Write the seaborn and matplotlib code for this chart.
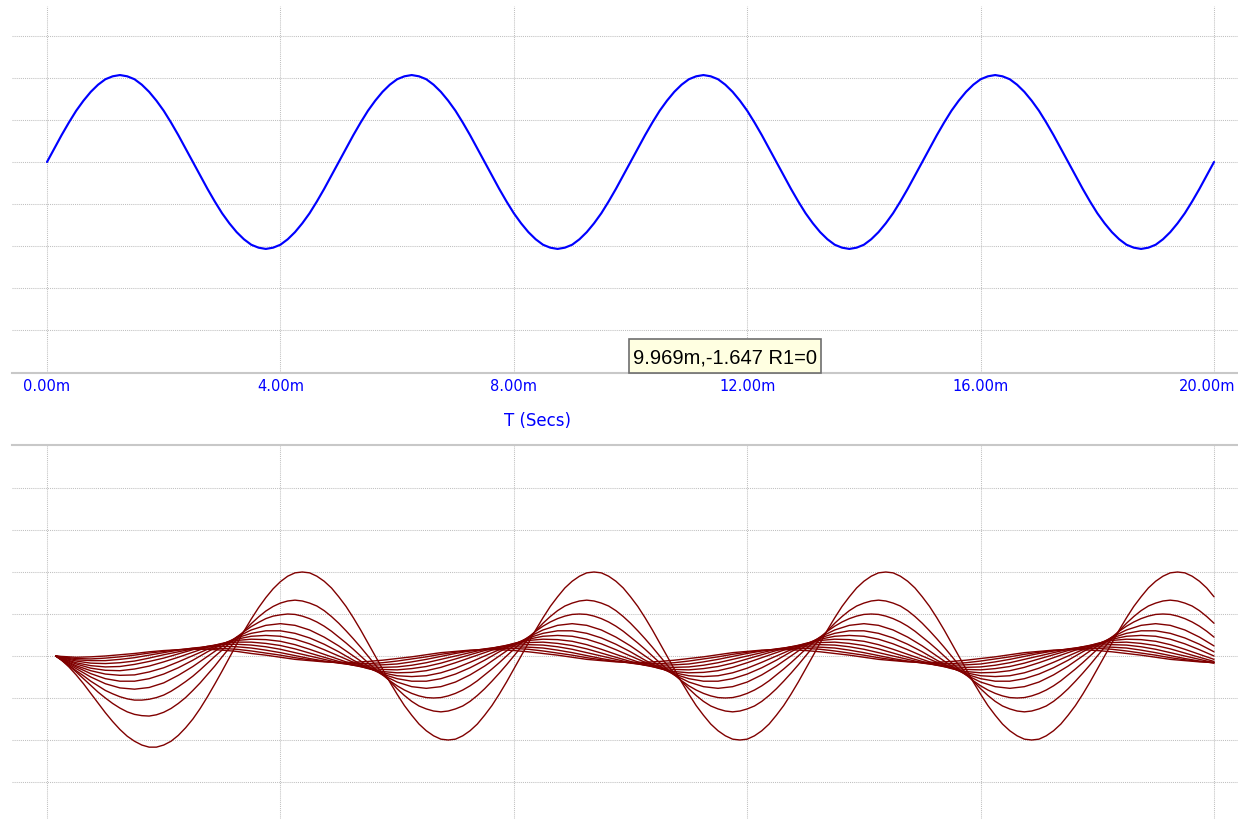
import numpy as np
import pandas as pd
import matplotlib
matplotlib.use("Agg")
import matplotlib.pyplot as plt
from matplotlib.patches import Rectangle
from matplotlib.transforms import ScaledTranslation
import seaborn as sns

# ---------------- data ----------------
tick_values = [0, 4, 8, 12, 16, 20]
tick_labels = ["0.00m", "4.00m", "8.00m", "12.00m", "16.00m", "20.00m"]
x_label = "T (Secs)"
cursor_text = "9.969m,-1.647 R1=0"

# time grids (ms)
t_top = np.arange(0, 20.001, 0.125)
t_fine = np.concatenate([[0.15], np.arange(0.25, 20.001, 0.125)])
t_coarse = np.concatenate([[0.15], np.arange(0.25, 20.001, 0.25)])

# upper trace (input)
v_top = [
    0.00, 0.32, 0.64, 0.94, 1.22, 1.46, 1.67, 1.84, 1.97, 2.04, 2.07, 2.04, 1.97, 1.84, 1.67, 1.46, 1.22, 0.94, 0.64, 0.32,
    0.00, -0.32, -0.64, -0.94, -1.22, -1.46, -1.67, -1.84, -1.97, -2.04, -2.07, -2.04, -1.97, -1.84, -1.67, -1.46, -1.22, -0.94, -0.64, -0.32,
    0.00, 0.32, 0.64, 0.94, 1.22, 1.46, 1.67, 1.84, 1.97, 2.04, 2.07, 2.04, 1.97, 1.84, 1.67, 1.46, 1.22, 0.94, 0.64, 0.32,
    0.00, -0.32, -0.64, -0.94, -1.22, -1.46, -1.67, -1.84, -1.97, -2.04, -2.07, -2.04, -1.97, -1.84, -1.67, -1.46, -1.22, -0.94, -0.64, -0.32,
    0.00, 0.32, 0.64, 0.94, 1.22, 1.46, 1.67, 1.84, 1.97, 2.04, 2.07, 2.04, 1.97, 1.84, 1.67, 1.46, 1.22, 0.94, 0.64, 0.32,
    0.00, -0.32, -0.64, -0.94, -1.22, -1.46, -1.67, -1.84, -1.97, -2.04, -2.07, -2.04, -1.97, -1.84, -1.67, -1.46, -1.22, -0.94, -0.64, -0.32,
    0.00, 0.32, 0.64, 0.94, 1.22, 1.46, 1.67, 1.84, 1.97, 2.04, 2.07, 2.04, 1.97, 1.84, 1.67, 1.46, 1.22, 0.94, 0.64, 0.32,
    0.00, -0.32, -0.64, -0.94, -1.22, -1.46, -1.67, -1.84, -1.97, -2.04, -2.07, -2.04, -1.97, -1.84, -1.67, -1.46, -1.22, -0.94, -0.64, -0.32,
    0.00,
]

# lower traces (R1 stepped) - the three largest on the fine grid
curve_r0 = [
    0.00, -0.10, -0.26, -0.45, -0.66, -0.89, -1.12, -1.35, -1.56, -1.75,
    -1.91, -2.03, -2.12, -2.17, -2.17, -2.12, -2.03, -1.89, -1.71, -1.50,
    -1.25, -0.97, -0.67, -0.36, -0.04, 0.28, 0.59, 0.88, 1.15, 1.39,
    1.60, 1.77, 1.90, 1.98, 2.00, 1.98, 1.90, 1.78, 1.62,
    1.41, 1.18, 0.91, 0.62, 0.31, 0.00, -0.31, -0.62, -0.91, -1.18, -1.41, -1.62, -1.78, -1.90, -1.98, -2.00, -1.98, -1.90, -1.78, -1.62,
    -1.41, -1.18, -0.91, -0.62, -0.31, 0.00, 0.31, 0.62, 0.91, 1.18, 1.41, 1.62, 1.78, 1.90, 1.98, 2.00, 1.98, 1.90, 1.78, 1.62,
    1.41, 1.18, 0.91, 0.62, 0.31, 0.00, -0.31, -0.62, -0.91, -1.18, -1.41, -1.62, -1.78, -1.90, -1.98, -2.00, -1.98, -1.90, -1.78, -1.62,
    -1.41, -1.18, -0.91, -0.62, -0.31, 0.00, 0.31, 0.62, 0.91, 1.18, 1.41, 1.62, 1.78, 1.90, 1.98, 2.00, 1.98, 1.90, 1.78, 1.62,
    1.41, 1.18, 0.91, 0.62, 0.31, 0.00, -0.31, -0.62, -0.91, -1.18, -1.41, -1.62, -1.78, -1.90, -1.98, -2.00, -1.98, -1.90, -1.78, -1.62,
    -1.41, -1.18, -0.91, -0.62, -0.31, 0.00, 0.31, 0.62, 0.91, 1.18, 1.41, 1.62, 1.78, 1.90, 1.98, 2.00, 1.98, 1.90, 1.78, 1.62,
    1.41,
]
curve_r1 = [
    0.00, -0.10, -0.23, -0.38, -0.54, -0.70, -0.86, -1.00, -1.13, -1.24,
    -1.33, -1.39, -1.42, -1.43, -1.40, -1.34, -1.25, -1.13, -0.99, -0.82,
    -0.64, -0.44, -0.24, -0.02, 0.19, 0.39, 0.59, 0.77, 0.93, 1.07,
    1.18, 1.26, 1.31, 1.33, 1.31, 1.26, 1.19, 1.08, 0.94,
    0.78, 0.60, 0.41, 0.21, 0.00, -0.21, -0.41, -0.60, -0.78, -0.94, -1.08, -1.19, -1.26, -1.31, -1.33, -1.31, -1.26, -1.19, -1.08, -0.94,
    -0.78, -0.60, -0.41, -0.21, 0.00, 0.21, 0.41, 0.60, 0.78, 0.94, 1.08, 1.19, 1.26, 1.31, 1.33, 1.31, 1.26, 1.19, 1.08, 0.94,
    0.78, 0.60, 0.41, 0.21, 0.00, -0.21, -0.41, -0.60, -0.78, -0.94, -1.08, -1.19, -1.26, -1.31, -1.33, -1.31, -1.26, -1.19, -1.08, -0.94,
    -0.78, -0.60, -0.41, -0.21, 0.00, 0.21, 0.41, 0.60, 0.78, 0.94, 1.08, 1.19, 1.26, 1.31, 1.33, 1.31, 1.26, 1.19, 1.08, 0.94,
    0.78, 0.60, 0.41, 0.21, 0.00, -0.21, -0.41, -0.60, -0.78, -0.94, -1.08, -1.19, -1.26, -1.31, -1.33, -1.31, -1.26, -1.19, -1.08, -0.94,
    -0.78, -0.60, -0.41, -0.21, 0.00, 0.21, 0.41, 0.60, 0.78, 0.94, 1.08, 1.19, 1.26, 1.31, 1.33, 1.31, 1.26, 1.19, 1.08, 0.94,
    0.78,
]
curve_r2 = [
    0.00, -0.09, -0.22, -0.35, -0.47, -0.60, -0.71, -0.82, -0.90, -0.97,
    -1.02, -1.05, -1.05, -1.03, -0.99, -0.93, -0.84, -0.73, -0.61, -0.48,
    -0.33, -0.17, -0.01, 0.14, 0.30, 0.45, 0.58, 0.70, 0.80, 0.89,
    0.95, 0.98, 1.00, 0.99, 0.95, 0.89, 0.81, 0.71, 0.59,
    0.45, 0.31, 0.16, 0.00, -0.16, -0.31, -0.45, -0.59, -0.71, -0.81, -0.89, -0.95, -0.99, -1.00, -0.99, -0.95, -0.89, -0.81, -0.71, -0.59,
    -0.45, -0.31, -0.16, 0.00, 0.16, 0.31, 0.45, 0.59, 0.71, 0.81, 0.89, 0.95, 0.99, 1.00, 0.99, 0.95, 0.89, 0.81, 0.71, 0.59,
    0.45, 0.31, 0.16, 0.00, -0.16, -0.31, -0.45, -0.59, -0.71, -0.81, -0.89, -0.95, -0.99, -1.00, -0.99, -0.95, -0.89, -0.81, -0.71, -0.59,
    -0.45, -0.31, -0.16, 0.00, 0.16, 0.31, 0.45, 0.59, 0.71, 0.81, 0.89, 0.95, 0.99, 1.00, 0.99, 0.95, 0.89, 0.81, 0.71, 0.59,
    0.45, 0.31, 0.16, 0.00, -0.16, -0.31, -0.45, -0.59, -0.71, -0.81, -0.89, -0.95, -0.99, -1.00, -0.99, -0.95, -0.89, -0.81, -0.71, -0.59,
    -0.45, -0.31, -0.16, 0.00, 0.16, 0.31, 0.45, 0.59, 0.71, 0.81, 0.89, 0.95, 0.99, 1.00, 0.99, 0.95, 0.89, 0.81, 0.71, 0.59,
    0.45,
]
# smaller traces on the coarse grid
curve_r3 = [
    0.00, -0.09, -0.30, -0.50, -0.66, -0.76, -0.79, -0.75, -0.64, -0.46,
    -0.25, -0.01, 0.23, 0.45, 0.62, 0.73, 0.77, 0.73, 0.62, 0.45,
    0.24, 0.00, -0.24, -0.45, -0.62, -0.73, -0.77, -0.73, -0.62, -0.45, -0.24, 0.00, 0.24, 0.45, 0.62, 0.73, 0.77, 0.73, 0.62, 0.45,
    0.24, 0.00, -0.24, -0.45, -0.62, -0.73, -0.77, -0.73, -0.62, -0.45, -0.24, 0.00, 0.24, 0.45, 0.62, 0.73, 0.77, 0.73, 0.62, 0.45,
    0.24, 0.00, -0.24, -0.45, -0.62, -0.73, -0.77, -0.73, -0.62, -0.45, -0.24, 0.00, 0.24, 0.45, 0.62, 0.73, 0.77, 0.73, 0.62, 0.45,
    0.24,
]
curve_r4 = [
    0.00, -0.08, -0.26, -0.42, -0.54, -0.60, -0.60, -0.54, -0.43, -0.28,
    -0.10, 0.10, 0.28, 0.43, 0.54, 0.60, 0.60, 0.54, 0.43, 0.28,
    0.10, -0.10, -0.28, -0.43, -0.54, -0.60, -0.60, -0.54, -0.43, -0.28, -0.10, 0.10, 0.28, 0.43, 0.54, 0.60, 0.60, 0.54, 0.43, 0.28,
    0.10, -0.10, -0.28, -0.43, -0.54, -0.60, -0.60, -0.54, -0.43, -0.28, -0.10, 0.10, 0.28, 0.43, 0.54, 0.60, 0.60, 0.54, 0.43, 0.28,
    0.10, -0.10, -0.28, -0.43, -0.54, -0.60, -0.60, -0.54, -0.43, -0.28, -0.10, 0.10, 0.28, 0.43, 0.54, 0.60, 0.60, 0.54, 0.43, 0.28,
    0.10,
]
curve_r5 = [
    0.00, -0.07, -0.23, -0.35, -0.43, -0.46, -0.45, -0.38, -0.28, -0.14,
    0.01, 0.16, 0.29, 0.40, 0.47, 0.49, 0.47, 0.40, 0.29, 0.15,
    0.00, -0.15, -0.29, -0.40, -0.47, -0.49, -0.47, -0.40, -0.29, -0.15, 0.00, 0.15, 0.29, 0.40, 0.47, 0.49, 0.47, 0.40, 0.29, 0.15,
    0.00, -0.15, -0.29, -0.40, -0.47, -0.49, -0.47, -0.40, -0.29, -0.15, 0.00, 0.15, 0.29, 0.40, 0.47, 0.49, 0.47, 0.40, 0.29, 0.15,
    0.00, -0.15, -0.29, -0.40, -0.47, -0.49, -0.47, -0.40, -0.29, -0.15, 0.00, 0.15, 0.29, 0.40, 0.47, 0.49, 0.47, 0.40, 0.29, 0.15,
    0.00,
]
curve_r6 = [
    0.00, -0.06, -0.19, -0.29, -0.34, -0.35, -0.31, -0.24, -0.14, -0.03,
    0.09, 0.21, 0.30, 0.37, 0.40, 0.39, 0.35, 0.27, 0.16, 0.04,
    -0.08, -0.20, -0.30, -0.37, -0.40, -0.39, -0.35, -0.27, -0.16, -0.04, 0.08, 0.20, 0.30, 0.37, 0.40, 0.39, 0.35, 0.27, 0.16, 0.04,
    -0.08, -0.20, -0.30, -0.37, -0.40, -0.39, -0.35, -0.27, -0.16, -0.04, 0.08, 0.20, 0.30, 0.37, 0.40, 0.39, 0.35, 0.27, 0.16, 0.04,
    -0.08, -0.20, -0.30, -0.37, -0.40, -0.39, -0.35, -0.27, -0.16, -0.04, 0.08, 0.20, 0.30, 0.37, 0.40, 0.39, 0.35, 0.27, 0.16, 0.04,
    -0.08,
]
curve_r7 = [
    0.00, -0.05, -0.16, -0.23, -0.26, -0.25, -0.20, -0.13, -0.05, 0.05,
    0.15, 0.23, 0.29, 0.33, 0.33, 0.30, 0.25, 0.17, 0.07, -0.03,
    -0.13, -0.22, -0.29, -0.32, -0.33, -0.30, -0.25, -0.17, -0.07, 0.03, 0.13, 0.22, 0.29, 0.32, 0.33, 0.30, 0.25, 0.17, 0.07, -0.03,
    -0.13, -0.22, -0.29, -0.32, -0.33, -0.30, -0.25, -0.17, -0.07, 0.03, 0.13, 0.22, 0.29, 0.32, 0.33, 0.30, 0.25, 0.17, 0.07, -0.03,
    -0.13, -0.22, -0.29, -0.32, -0.33, -0.30, -0.25, -0.17, -0.07, 0.03, 0.13, 0.22, 0.29, 0.32, 0.33, 0.30, 0.25, 0.17, 0.07, -0.03,
    -0.13,
]
curve_r8 = [
    0.00, -0.04, -0.12, -0.17, -0.18, -0.16, -0.12, -0.05, 0.03, 0.10,
    0.17, 0.23, 0.27, 0.28, 0.26, 0.22, 0.16, 0.08, 0.00, -0.08,
    -0.16, -0.22, -0.26, -0.27, -0.26, -0.22, -0.16, -0.08, 0.00, 0.08, 0.16, 0.22, 0.26, 0.27, 0.26, 0.22, 0.16, 0.08, 0.00, -0.08,
    -0.16, -0.22, -0.26, -0.27, -0.26, -0.22, -0.16, -0.08, 0.00, 0.08, 0.16, 0.22, 0.26, 0.27, 0.26, 0.22, 0.16, 0.08, 0.00, -0.08,
    -0.16, -0.22, -0.26, -0.27, -0.26, -0.22, -0.16, -0.08, 0.00, 0.08, 0.16, 0.22, 0.26, 0.27, 0.26, 0.22, 0.16, 0.08, 0.00, -0.08,
    -0.16,
]
curve_r9 = [
    0.00, -0.03, -0.09, -0.11, -0.11, -0.08, -0.04, 0.02, 0.08, 0.14,
    0.19, 0.22, 0.23, 0.22, 0.19, 0.14, 0.08, 0.01, -0.06, -0.12,
    -0.17, -0.21, -0.22, -0.21, -0.19, -0.14, -0.08, -0.01, 0.06, 0.12, 0.17, 0.21, 0.22, 0.21, 0.19, 0.14, 0.08, 0.01, -0.06, -0.12,
    -0.17, -0.21, -0.22, -0.21, -0.19, -0.14, -0.08, -0.01, 0.06, 0.12, 0.17, 0.21, 0.22, 0.21, 0.19, 0.14, 0.08, 0.01, -0.06, -0.12,
    -0.17, -0.21, -0.22, -0.21, -0.19, -0.14, -0.08, -0.01, 0.06, 0.12, 0.17, 0.21, 0.22, 0.21, 0.19, 0.14, 0.08, 0.01, -0.06, -0.12,
    -0.17,
]
curve_r10 = [
    0.00, -0.02, -0.06, -0.07, -0.05, -0.02, 0.02, 0.07, 0.11, 0.15,
    0.18, 0.19, 0.18, 0.16, 0.12, 0.07, 0.02, -0.04, -0.09, -0.13,
    -0.16, -0.18, -0.18, -0.16, -0.12, -0.07, -0.02, 0.04, 0.09, 0.13, 0.16, 0.18, 0.18, 0.16, 0.12, 0.07, 0.02, -0.04, -0.09, -0.13,
    -0.16, -0.18, -0.18, -0.16, -0.12, -0.07, -0.02, 0.04, 0.09, 0.13, 0.16, 0.18, 0.18, 0.16, 0.12, 0.07, 0.02, -0.04, -0.09, -0.13,
    -0.16, -0.18, -0.18, -0.16, -0.12, -0.07, -0.02, 0.04, 0.09, 0.13, 0.16, 0.18, 0.18, 0.16, 0.12, 0.07, 0.02, -0.04, -0.09, -0.13,
    -0.16,
]
curve_r11 = [
    0.00, -0.01, -0.03, -0.02, 0.00, 0.03, 0.06, 0.10, 0.13, 0.15,
    0.16, 0.16, 0.14, 0.11, 0.06, 0.02, -0.03, -0.08, -0.11, -0.14,
    -0.15, -0.15, -0.13, -0.10, -0.06, -0.02, 0.03, 0.08, 0.11, 0.14, 0.15, 0.15, 0.13, 0.10, 0.06, 0.02, -0.03, -0.08, -0.11, -0.14,
    -0.15, -0.15, -0.13, -0.10, -0.06, -0.02, 0.03, 0.08, 0.11, 0.14, 0.15, 0.15, 0.13, 0.10, 0.06, 0.02, -0.03, -0.08, -0.11, -0.14,
    -0.15, -0.15, -0.13, -0.10, -0.06, -0.02, 0.03, 0.08, 0.11, 0.14, 0.15, 0.15, 0.13, 0.10, 0.06, 0.02, -0.03, -0.08, -0.11, -0.14,
    -0.15,
]

traces = [
    (t_fine, curve_r0), (t_fine, curve_r1), (t_fine, curve_r2),
    (t_coarse, curve_r3), (t_coarse, curve_r4), (t_coarse, curve_r5),
    (t_coarse, curve_r6), (t_coarse, curve_r7), (t_coarse, curve_r8),
    (t_coarse, curve_r9), (t_coarse, curve_r10), (t_coarse, curve_r11),
]

# ---------------- styling ----------------
sns.set_style("white")
plt.rcParams['font.family'] = ['DejaVu Sans']

W, H = 1238, 820
fig = plt.figure(figsize=(W / 100, H / 100), dpi=100)
fig.patch.set_facecolor("white")


def fx(px):
    return px / W


def fy(py):
    return 1 - py / H


ax1 = fig.add_axes([fx(12), fy(374), fx(1238) - fx(12), fy(7) - fy(374)])
ax2 = fig.add_axes([fx(12), fy(820), fx(1238) - fx(12), fy(446) - fy(820)])

top_df = pd.DataFrame({"t": t_top[:len(v_top)], "v": v_top[:len(t_top)]})
sns.lineplot(data=top_df, x="t", y="v", color="#0000ff", linewidth=1.55,
             ax=ax1, estimator=None)

rows = []
for k, (tt, vals) in enumerate(traces):
    for t, v in zip(tt, vals):
        rows.append((f"R{k}", t, v))
bot_df = pd.DataFrame(rows, columns=["curve", "t", "v"])
sns.lineplot(data=bot_df, x="t", y="v", units="curve", estimator=None,
             color="#800000", linewidth=1.0, ax=ax2)

grid_kw = dict(color="#c0c0c0", linestyle=(0, (1, 1)), linewidth=0.75)
for ax in (ax1, ax2):
    ax.set_xlim(-0.600, 20.411)
    ax.set_xticks(tick_values)
    ax.grid(True, **grid_kw)
    ax.set_axisbelow(True)
    for s in ax.spines.values():
        s.set_visible(False)
    ax.tick_params(length=0, labelleft=False)
    ax.set_xlabel("")
    ax.set_ylabel("")
    ax.set_facecolor("white")

ax1.set_ylim(-5.024, 3.714)
ax1.set_yticks([-4, -3, -2, -1, 0, 1, 2, 3])
ax1.set_xticklabels(tick_labels, color="#0000ff", fontsize=10.5)
ax1.tick_params(axis="x", pad=3.5)
# keep the last label inside the figure edge
last_lab = ax1.get_xticklabels()[-1]
last_lab.set_transform(last_lab.get_transform()
                       + ScaledTranslation(-7 / 100, 0, fig.dpi_scale_trans))
ax1.spines["bottom"].set_visible(True)
ax1.spines["bottom"].set_color("#c8c8c8")
ax1.spines["bottom"].set_linewidth(1.5)

ax2.set_ylim(-3.881, 5.024)
ax2.set_yticks([-3, -2, -1, 0, 1, 2, 3, 4])
ax2.tick_params(axis="x", labelbottom=False)
ax2.spines["top"].set_visible(True)
ax2.spines["top"].set_color("#c8c8c8")
ax2.spines["top"].set_linewidth(1.5)

fig.text(fx(538), fy(421), x_label, color="#0000ff", fontsize=12,
         ha="center", va="center")

# cursor readout box
fig.patches.append(Rectangle((fx(629), fy(374)), fx(821) - fx(629), fy(340) - fy(374),
                             transform=fig.transFigure, facecolor="#ffffe1",
                             edgecolor="#6e6e6e", linewidth=1.2, zorder=5))
fig.text(fx(633), fy(358), cursor_text, color="#000000", fontsize=14.5,
         ha="left", va="center", zorder=6,
         family=["Liberation Sans", "DejaVu Sans"])

fig.savefig("out.png", dpi=100, facecolor="white")
